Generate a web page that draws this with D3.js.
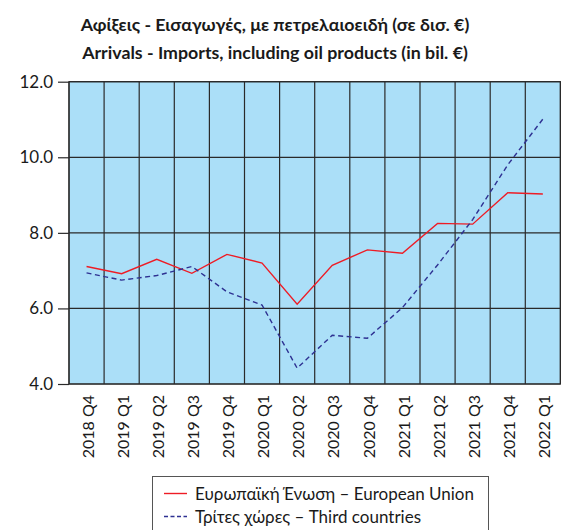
<!DOCTYPE html>
<html>
<head>
<meta charset="utf-8">
<script src="https://cdn.jsdelivr.net/npm/d3@7"></script>
<style>
  body { margin: 0; background: #ffffff; }
  svg { display: block; }
  text { font-family: Lato, "Noto Sans", sans-serif; fill: #1a1a1a; }
</style>
</head>
<body>
<svg id="chart" width="562" height="530"></svg>
<script>
// Quarterly arrivals (imports incl. oil products), billion €
const quarters = ["2018 Q4", "2019 Q1", "2019 Q2", "2019 Q3", "2019 Q4", "2020 Q1", "2020 Q2",
                  "2020 Q3", "2020 Q4", "2021 Q1", "2021 Q2", "2021 Q3", "2021 Q4", "2022 Q1"];
const euValues    = [7.11, 6.92, 7.30, 6.93, 7.43, 7.20, 6.11, 7.14, 7.55, 7.46, 8.25, 8.23, 9.06, 9.03];
const thirdValues = [6.94, 6.75, 6.87, 7.11, 6.44, 6.09, 4.42, 5.29, 5.21, 6.02, 7.15, 8.35, 9.80, 11.01];
const yTicks = [4, 6, 8, 10, 12];
const titleLines = ["Αφίξεις - Εισαγωγές, με πετρελαιοειδή (σε δισ. €)",
                    "Arrivals - Imports, including oil products (in bil. €)"];
const seriesNames = ["Ευρωπαϊκή Ένωση – European Union", "Τρίτες χώρες – Third countries"];

const svg = d3.select("#chart");
const plot = { left: 69, right: 560.4, top: 81.7, bottom: 384 };

const x = d3.scaleBand().domain(quarters).range([plot.left, plot.right]).padding(0);
const y = d3.scaleLinear().domain([4, 12]).range([plot.bottom, plot.top]);

// Title
svg.append("g").selectAll("text").data(titleLines).join("text")
  .attr("x", 275).attr("y", (d, i) => 30.5 + i * 28.5)
  .attr("text-anchor", "middle")
  .attr("font-size", 17.8).attr("font-weight", "bold")
  .text(d => d);

// Plot background
svg.append("rect")
  .attr("x", plot.left).attr("y", plot.top)
  .attr("width", plot.right - plot.left).attr("height", plot.bottom - plot.top)
  .attr("fill", "#abdff8");

// Vertical grid at band boundaries
const bounds = quarters.map(q => x(q)).concat([plot.right]);
svg.append("g").selectAll("line").data(bounds).join("line")
  .attr("x1", d => d).attr("x2", d => d)
  .attr("y1", plot.top).attr("y2", plot.bottom)
  .attr("stroke", "#2a2a2a").attr("stroke-width", 1.2);

// Horizontal grid
svg.append("g").selectAll("line").data(yTicks).join("line")
  .attr("x1", plot.left).attr("x2", plot.right)
  .attr("y1", d => y(d)).attr("y2", d => y(d))
  .attr("stroke", "#2a2a2a").attr("stroke-width", 1.2);

// Y axis
const yAxis = svg.append("g")
  .attr("transform", `translate(${plot.left},0)`)
  .call(d3.axisLeft(y).tickValues(yTicks).tickFormat(d3.format(".1f")).tickSize(11).tickPadding(5));
yAxis.select(".domain").remove();
yAxis.selectAll("line").attr("stroke", "#2a2a2a").attr("stroke-width", 1.2);
yAxis.selectAll("text").attr("font-size", 17).attr("font-family", "Lato, sans-serif").attr("fill", "#1a1a1a");

// X axis labels (rotated)
const xAxis = svg.append("g")
  .attr("transform", `translate(0,${plot.bottom})`)
  .call(d3.axisBottom(x).tickSize(0).tickPadding(0));
xAxis.select(".domain").remove();
xAxis.selectAll("text")
  .attr("font-size", 16).attr("font-family", "Lato, sans-serif").attr("fill", "#1a1a1a")
  .attr("transform", "rotate(-90)")
  .attr("text-anchor", "end")
  .attr("x", -11).attr("y", 0).attr("dy", "0.45em");

// Series lines
const line = d3.line().x((d, i) => x(quarters[i]) + x.bandwidth() / 2).y(d => y(d));
svg.append("path").datum(euValues)
  .attr("d", line).attr("fill", "none")
  .attr("stroke", "#ee1c25").attr("stroke-width", 1.4);
svg.append("path").datum(thirdValues)
  .attr("d", line).attr("fill", "none")
  .attr("stroke", "#2e3192").attr("stroke-width", 1.4)
  .attr("stroke-dasharray", "5,3.5");

// Border
svg.append("rect")
  .attr("x", plot.left).attr("y", plot.top)
  .attr("width", plot.right - plot.left).attr("height", plot.bottom - plot.top)
  .attr("fill", "none").attr("stroke", "#2a2a2a").attr("stroke-width", 1.2);

// Legend
const legend = svg.append("g");
legend.append("rect")
  .attr("x", 152.5).attr("y", 476.5).attr("width", 336).attr("height", 70)
  .attr("fill", "#ffffff").attr("stroke", "#555555").attr("stroke-width", 1);
const legendItems = [
  { name: seriesNames[0], color: "#ee1c25", dash: null },
  { name: seriesNames[1], color: "#2e3192", dash: "4,2.5" }
];
const li = legend.selectAll("g.item").data(legendItems).join("g")
  .attr("class", "item")
  .attr("transform", (d, i) => `translate(0,${493.5 + i * 23})`);
li.append("line")
  .attr("x1", 164).attr("x2", 187).attr("y1", 0).attr("y2", 0)
  .attr("stroke", d => d.color).attr("stroke-width", 1.4)
  .attr("stroke-dasharray", d => d.dash);
li.append("text")
  .attr("x", 195).attr("y", 6)
  .attr("font-size", 17)
  .text(d => d.name);
</script>
</body>
</html>
